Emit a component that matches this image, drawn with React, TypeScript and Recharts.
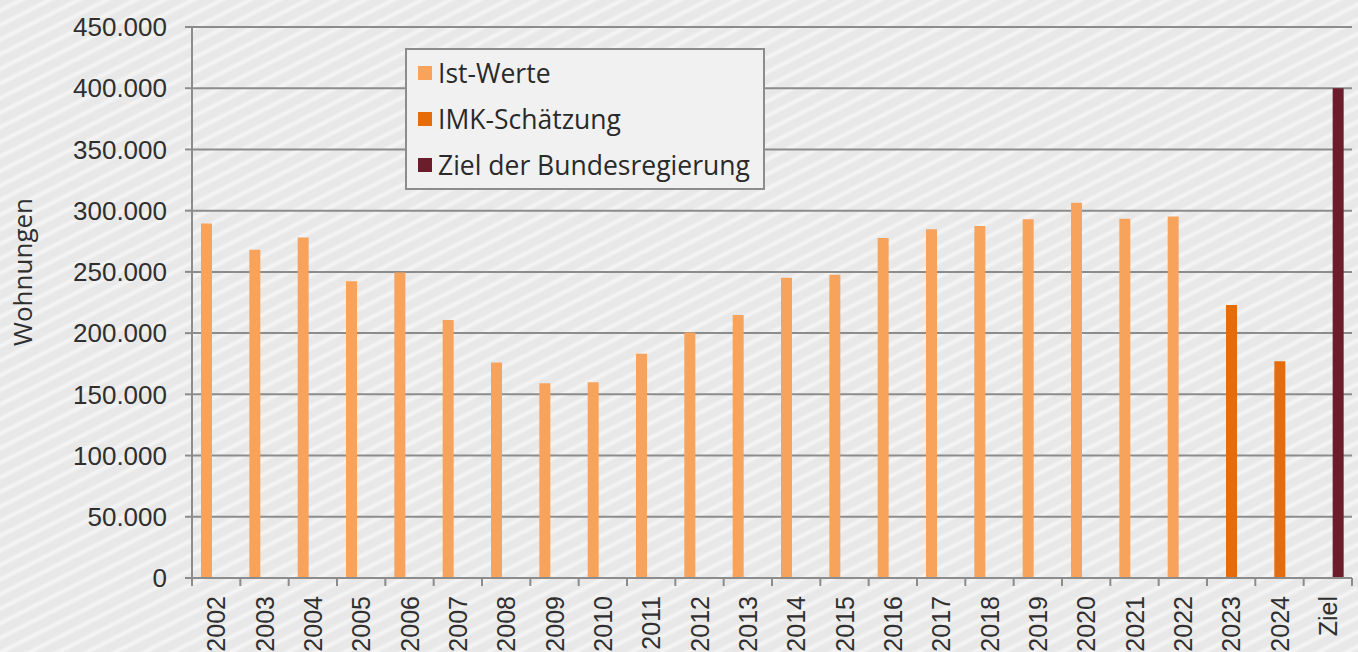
import { Bar, BarChart, CartesianGrid, Legend, XAxis, YAxis } from 'recharts'

const years = [
  '2002', '2003', '2004', '2005', '2006', '2007', '2008', '2009', '2010', '2011', '2012', '2013',
  '2014', '2015', '2016', '2017', '2018', '2019', '2020', '2021', '2022', '2023', '2024', 'Ziel',
]
const istWerte = [
  289600, 268100, 278000, 242300, 249400, 210700, 175900, 159000, 159800, 183100, 200500, 214800,
  245300, 247700, 277700, 284800, 287400, 293000, 306400, 293400, 295300, null, null, null,
]
const imkSchaetzung = [
  null, null, null, null, null, null, null, null, null, null, null, null,
  null, null, null, null, null, null, null, null, null, 223000, 177000, null,
]
const zielBund = [
  null, null, null, null, null, null, null, null, null, null, null, null,
  null, null, null, null, null, null, null, null, null, null, null, 400000,
]
const seriesNames = ['Ist-Werte', 'IMK-Schätzung', 'Ziel der Bundesregierung']
const yTicks = [0, 50000, 100000, 150000, 200000, 250000, 300000, 350000, 400000, 450000]

const rows = years.map((y, i) => ({
  year: y,
  ist: istWerte[i],
  imk: imkSchaetzung[i],
  ziel: zielBund[i],
}))

const W = 1358
const H = 652
const M = { top: 27, right: 6, bottom: 0, left: 0 }
const Y_W = 192
const X_H = 74
const GRID = '#8c8c8c'
const TXT = '#2f2f2f'
const band = (W - M.left - M.right - Y_W) / years.length

const fmt = (v: number) => String(v).replace(/\B(?=(\d{3})+(?!\d))/g, '.')

function XTick(props: any) {
  const { x, y, payload, index } = props
  const last = index === years.length - 1
  return (
    <g>
      <line x1={x - band / 2} x2={x - band / 2} y1={y - 8} y2={y} stroke={GRID} strokeWidth={2} />
      {last && <line x1={x + band / 2} x2={x + band / 2} y1={y - 8} y2={y} stroke={GRID} strokeWidth={2} />}
      <text
        transform={`translate(${x},${y + 10}) rotate(-90)`}
        textAnchor="end"
        dy="0.36em"
        fill={TXT}
        fontSize={25}
        fontFamily="'Liberation Sans', Arial, sans-serif"
      >
        {payload.value}
      </text>
    </g>
  )
}

function LegendBox(props: any) {
  const items = [...(props.payload || [])].sort(
    (a: any, b: any) => seriesNames.indexOf(a.value) - seriesNames.indexOf(b.value),
  )
  return (
    <div
      style={{
        width: 356,
        height: 138,
        border: `2px solid ${GRID}`,
        background: '#f1f1f1',
        boxSizing: 'content-box',
        fontFamily: "'Open Sans', sans-serif",
        fontSize: 26.5,
        color: '#2a2a2a',
        textAlign: 'left',
      }}
    >
      {items.map((it: any) => (
        <div key={it.value} style={{ display: 'flex', alignItems: 'center', height: 46, paddingLeft: 11 }}>
          <span style={{ width: 14, height: 14, background: it.color, marginRight: 6, display: 'inline-block' }} />
          <span>{it.value}</span>
        </div>
      ))}
    </div>
  )
}

function YLabel(props: any) {
  const { viewBox } = props
  const cx = viewBox.x + 23
  return (
    <text
      transform={`translate(${cx},272) rotate(-90)`}
      textAnchor="middle"
      dy="0.35em"
      fill={TXT}
      fontSize={26}
      fontFamily="'Open Sans', sans-serif"
    >
      Wohnungen
    </text>
  )
}

export default function App() {
  return (
    <div
      style={{
        position: 'absolute',
        left: 0,
        top: 0,
        width: W,
        height: H,
        overflow: 'hidden',
        background:
          'repeating-linear-gradient(153deg, #e8e8e8 0px, #e8e8e8 6px, #f4f4f4 9px, #f4f4f4 10px, #e8e8e8 13px)',
      }}
    >
      <BarChart width={W} height={H} data={rows} margin={M} barSize={11} barGap={-1}>
        <CartesianGrid horizontal vertical={false} stroke={GRID} strokeWidth={2} />
        <XAxis
          dataKey="year"
          height={X_H}
          axisLine={{ stroke: GRID, strokeWidth: 2 }}
          tickLine={false}
          tickSize={8}
          tickMargin={0}
          interval={0}
          tick={<XTick />}
        />
        <YAxis
          width={Y_W}
          domain={[0, 450000]}
          ticks={yTicks}
          interval={0}
          tickFormatter={fmt}
          axisLine={{ stroke: GRID, strokeWidth: 2 }}
          tickLine={{ stroke: GRID, strokeWidth: 2 }}
          tickSize={7}
          tickMargin={18}
          tick={{ fill: TXT, fontSize: 26, fontFamily: "'Liberation Sans', Arial, sans-serif" }}
          label={<YLabel />}
        />
        <Legend
          layout="horizontal"
          verticalAlign="middle"
          align="center"
          content={<LegendBox />}
          wrapperStyle={{ left: 405, top: 48, width: 'auto' }}
        />
        <Bar dataKey="ist" name="Ist-Werte" fill="#f8a35c" isAnimationActive={false} />
        <Bar dataKey="imk" name="IMK-Schätzung" fill="#e46c0a" isAnimationActive={false} />
        <Bar dataKey="ziel" name="Ziel der Bundesregierung" fill="#6b1d2c" isAnimationActive={false} />
      </BarChart>
    </div>
  )
}
